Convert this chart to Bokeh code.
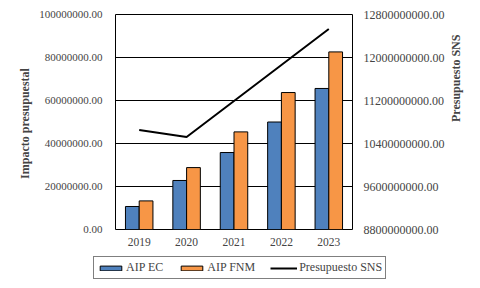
import math
from bokeh.plotting import figure
from bokeh.layouts import column
from bokeh.models import (Range1d, LinearAxis, FixedTicker, NumeralTickFormatter,
                          ColumnDataSource, Legend, LegendItem)
from bokeh.transform import dodge
from bokeh.embed import file_html
from bokeh.resources import INLINE

years = ["2019", "2020", "2021", "2022", "2023"]
aip_ec = [10.7e6, 22.8e6, 35.8e6, 50.0e6, 65.6e6]
aip_fnm = [13.3e6, 28.8e6, 45.4e6, 63.7e6, 82.6e6]
presupuesto_sns = [10.65e9, 10.52e9, 11.19e9, 11.86e9, 12.53e9]

left_ticks = [0, 20e6, 40e6, 60e6, 80e6, 100e6]
right_ticks = [8.8e9, 9.6e9, 10.4e9, 11.2e9, 12.0e9, 12.8e9]

series_names = ["AIP EC", "AIP FNM", "Presupuesto SNS"]
BLUE = "#4F81BD"
ORANGE = "#F79646"

FONT = "Liberation Serif"

src = ColumnDataSource(dict(year=years, ec=aip_ec, fnm=aip_fnm, sns=presupuesto_sns))

p = figure(width=480, height=250, x_range=years, y_range=Range1d(0, 100e6),
           output_backend="svg", toolbar_location=None,
           min_border_left=115, min_border_right=128, min_border_top=14, min_border_bottom=21)
p.frame_align = False
p.extra_y_ranges = {"sns": Range1d(8.8e9, 12.8e9)}

p.background_fill_color = "white"
p.border_fill_color = "white"
p.outline_line_color = "black"
p.outline_line_width = 1

p.xgrid.grid_line_color = None
p.ygrid.grid_line_color = "black"
p.ygrid.grid_line_width = 1
p.ygrid.ticker = FixedTicker(ticks=left_ticks)

p.vbar(x=dodge("year", -0.145, range=p.x_range), top="ec", width=0.29, source=src,
       fill_color=BLUE, line_color="black", line_width=1)
p.vbar(x=dodge("year", 0.145, range=p.x_range), top="fnm", width=0.29, source=src,
       fill_color=ORANGE, line_color="black", line_width=1)
p.line(x="year", y="sns", source=src, y_range_name="sns",
       line_color="black", line_width=2)

# left axis
ya = p.yaxis[0]
ya.ticker = FixedTicker(ticks=left_ticks)
ya.formatter = NumeralTickFormatter(format="0.00")
ya.axis_label = "Impacto  presupuestal"
ya.axis_label_text_font = FONT
ya.axis_label_text_font_style = "bold"
ya.axis_label_text_font_size = "12px"
ya.axis_label_standoff = 4
ya.major_label_text_font = FONT
ya.major_label_text_font_size = "11px"
ya.major_label_standoff = 13
ya.major_tick_out = 0
ya.major_tick_in = 0
ya.minor_tick_out = 0
ya.minor_tick_in = 0
ya.axis_line_color = None

# right axis
ra = LinearAxis(y_range_name="sns", ticker=FixedTicker(ticks=right_ticks),
                formatter=NumeralTickFormatter(format="0.00"))
ra.axis_label = "Presupuesto  SNS"
ra.axis_label_orientation = math.pi / 2
ra.axis_label_text_font = FONT
ra.axis_label_text_font_style = "bold"
ra.axis_label_text_font_size = "12px"
ra.axis_label_standoff = 8
ra.major_label_text_font = FONT
ra.major_label_text_font_size = "12px"
ra.major_label_standoff = 11
ra.major_tick_out = 0
ra.major_tick_in = 0
ra.minor_tick_out = 0
ra.minor_tick_in = 0
ra.axis_line_color = None
p.add_layout(ra, "right")

# x axis
xa = p.xaxis[0]
xa.major_label_text_font = FONT
xa.major_label_text_font_size = "11.5px"
xa.major_label_standoff = 8
xa.major_tick_out = 0
xa.major_tick_in = 0
xa.axis_line_color = None

# legend strip (separate small figure so the legend is not clipped)
lg = figure(width=480, height=38, x_range=Range1d(0, 1), y_range=Range1d(0, 1),
            output_backend="svg", toolbar_location=None,
            x_axis_type=None, y_axis_type=None,
            min_border_left=0, min_border_right=0, min_border_top=0, min_border_bottom=0)
lg.frame_align = False
lg.outline_line_color = None
lg.xgrid.grid_line_color = None
lg.ygrid.grid_line_color = None
lg.background_fill_color = "white"
lg.border_fill_color = "white"
dummy = ColumnDataSource(dict(x=[-10.0], y=[-10.0]))
k_ec = lg.vbar(x="x", top="y", width=0.1, source=dummy,
               fill_color=BLUE, line_color="black", line_width=1)
k_fnm = lg.vbar(x="x", top="y", width=0.1, source=dummy,
                fill_color=ORANGE, line_color="black", line_width=1)
k_sns = lg.line(x="x", y="y", source=dummy, line_color="black", line_width=2)

legend = Legend(items=[LegendItem(label=series_names[0], renderers=[k_ec]),
                       LegendItem(label=series_names[1], renderers=[k_fnm]),
                       LegendItem(label=series_names[2], renderers=[k_sns])],
                orientation="horizontal", location=(93, 9),
                glyph_width=27, glyph_height=6, label_standoff=2, spacing=15,
                padding=3, margin=0,
                label_text_font=FONT, label_text_font_size="12px",
                border_line_color="black", border_line_width=1,
                background_fill_color="white", background_fill_alpha=1)
lg.add_layout(legend, "center")

layout = column(p, lg, spacing=0)
open("out.html", "w").write(file_html(layout, INLINE))
